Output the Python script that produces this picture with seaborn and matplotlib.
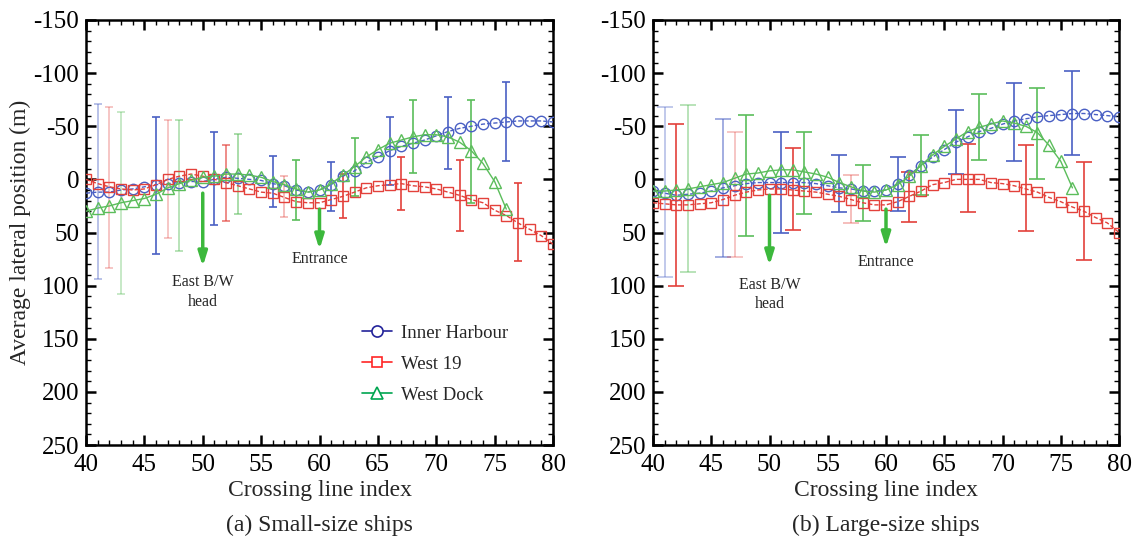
import numpy as np
import pandas as pd
import matplotlib
matplotlib.use("Agg")
import matplotlib.pyplot as plt
import seaborn as sns
from matplotlib.lines import Line2D
from matplotlib.ticker import MultipleLocator

# ---------------- data ----------------
idx = list(range(40, 81))
idx_wd = list(range(40, 77))

series_names = ["Inner Harbour", "West 19", "West Dock"]
panel_titles = ["(a) Small-size ships", "(b) Large-size ships"]

ih_small = [13, 12, 12, 10, 9, 7, 5, 4, 3, 2, 2, 0, -2, -1, 0, 1, 4, 6, 10, 12,
            10, 5, -3, -8, -16, -21, -27, -31, -34, -37, -41, -45, -48, -50, -52,
            -53, -54, -55, -55, -55, -54]
w19_small = [0, 4, 7, 9, 10, 9, 5, 0, -3, -5, -3, 0, 3, 6, 9, 12, 13, 17, 21, 22,
             22, 19, 16, 12, 8, 6, 5, 4, 6, 7, 9, 12, 15, 19, 22, 29, 34, 41, 47, 53, 61]
wd_small = [30, 27, 25, 22, 20, 18, 14, 8, 4, 1, -2, -3, -5, -5, -4, -2, 2, 5, 9, 12,
            10, 4, -4, -12, -21, -28, -34, -37, -40, -42, -42, -40, -35, -27, -15, 2, 28]

ih_large = [11, 13, 15, 14, 13, 11, 8, 6, 4, 3, 3, 3, 3, 3, 4, 6, 8, 9, 11, 11,
            10, 4, -4, -13, -21, -28, -35, -40, -45, -48, -52, -55, -57, -59, -60,
            -61, -62, -62, -61, -60, -59]
w19_large = [22, 23, 24, 24, 23, 22, 19, 15, 12, 10, 9, 9, 10, 11, 12, 14, 16, 19, 22, 24,
             24, 21, 16, 11, 5, 3, 0, 0, 0, 3, 4, 6, 9, 12, 17, 21, 26, 30, 36, 41, 50]
wd_large = [11, 11, 10, 9, 7, 5, 3, -1, -5, -6, -8, -9, -9, -7, -5, -2, 3, 7, 11, 12,
            10, 5, -3, -13, -23, -31, -38, -45, -49, -52, -55, -53, -50, -44, -32, -17, 8]

# error bar ranges (top = most negative, bottom = most positive on the inverted axis)
eb_idx_ih = [41, 46, 51, 56, 61, 66, 71, 76]
eb_idx_w19 = [42, 47, 52, 57, 62, 67, 72, 77]
eb_idx_wd = [43, 48, 53, 58, 63, 68, 73]

ih_small_top = [-71, -59, -45, -22, -16, -59, -78, -92]
ih_small_bot = [94, 70, 43, 26, 30, 5, -10, -17]
w19_small_top = [-68, -56, -32, -3, -5, -21, -18, 3]
w19_small_bot = [83, 55, 39, 35, 36, 29, 49, 77]
wd_small_top = [-63, -56, -43, -18, -39, -75, -75]
wd_small_bot = [108, 67, 33, 38, 16, -6, 22]

ih_large_top = [-68, -57, -45, -23, -21, -65, -91, -102]
ih_large_bot = [92, 73, 50, 31, 30, -5, -17, -23]
w19_large_top = [-52, -45, -30, -4, -7, -33, -32, -16]
w19_large_bot = [100, 73, 48, 41, 40, 31, 49, 76]
wd_large_top = [-70, -61, -45, -14, -42, -80, -86]
wd_large_bot = [87, 53, 33, 39, 15, -18, 0]

# ---------------- style ----------------
sns.set_theme(style="ticks")
plt.rcParams['font.family'] = ['Liberation Serif', 'DejaVu Serif']
plt.rcParams['axes.unicode_minus'] = False

c_ih, c_w19, c_wd = '#4a60c4', '#e3413b', '#5bbd5b'
leg_colors = ['#23239a', '#ff2626', '#00a550']
arrow_c = '#3cb83c'

fig = plt.figure(figsize=(11.37, 5.38), dpi=100)
ax1 = fig.add_axes([86 / 1137, 1 - 445 / 538, 467 / 1137, 425 / 538])
ax2 = fig.add_axes([653 / 1137, 1 - 445 / 538, 466 / 1137, 425 / 538])

panels = [
    (ax1, ih_small, w19_small, wd_small,
     (ih_small_top, ih_small_bot), (w19_small_top, w19_small_bot), (wd_small_top, wd_small_bot),
     [0.45, 1, 1, 1, 1, 1, 1, 1], [0.35, 0.35, 0.7, 0.4, 1, 1, 1, 1], [0.4, 0.5, 0.6, 1, 1, 1, 1],
     3.0),
    (ax2, ih_large, w19_large, wd_large,
     (ih_large_top, ih_large_bot), (w19_large_top, w19_large_bot), (wd_large_top, wd_large_bot),
     [0.4, 0.6, 1, 1, 1, 1, 1, 1], [1, 0.35, 1, 0.4, 1, 1, 1, 1], [0.5, 1, 1, 1, 1, 1, 1],
     5.8),
]

for k, (ax, ih, w19, wd, eih, ew19, ewd, a_ih, a_w19, a_wd, cap) in enumerate(panels):
    # error bars
    for xs, (tops, bots), col, alphas in [(eb_idx_ih, eih, c_ih, a_ih),
                                          (eb_idx_w19, ew19, c_w19, a_w19),
                                          (eb_idx_wd, ewd, c_wd, a_wd)]:
        for xv, t, b, a in zip(xs, tops, bots, alphas):
            mid = (t + b) / 2.0
            ax.errorbar([xv], [mid], yerr=[[(b - t) / 2.0], [(b - t) / 2.0]], fmt='none',
                        ecolor=col, elinewidth=1.2, capsize=cap, capthick=1.2, alpha=a, zorder=2)

    df_ih = pd.DataFrame({"x": idx, "y": ih})
    df_w19 = pd.DataFrame({"x": idx, "y": w19})
    df_wd = pd.DataFrame({"x": idx_wd, "y": wd})

    sns.lineplot(data=df_ih, x="x", y="y", ax=ax, color=c_ih, marker='o', ms=7.5,
                 mfc='none', mec=c_ih, mew=1.0, lw=1.0, ls=(0, (3, 1.5)), legend=False, zorder=3)
    sns.lineplot(data=df_w19, x="x", y="y", ax=ax, color=c_w19, marker='s', ms=6.5,
                 mfc='none', mec=c_w19, mew=1.0, lw=1.0, ls=(0, (3, 1.5)), legend=False, zorder=3)
    sns.lineplot(data=df_wd, x="x", y="y", ax=ax, color=c_wd, marker='^', ms=8,
                 mfc='none', mec=c_wd, mew=1.0, lw=1.0, ls='-', legend=False, zorder=3)

    # annotations
    arr = dict(arrowstyle='-|>,head_length=0.7,head_width=0.22',
               color=arrow_c, lw=2.5, shrinkA=0, shrinkB=0)
    if k == 0:
        ax.annotate('', xy=(50, 82), xytext=(50, 13), arrowprops=arr)
        ax.annotate('', xy=(60, 66), xytext=(60, 28), arrowprops=arr)
        ax.text(50, 97, 'East B/W', ha='center', va='center', fontsize=11.5)
        ax.text(50, 115, 'head', ha='center', va='center', fontsize=11.5)
        ax.text(60, 75, 'Entrance', ha='center', va='center', fontsize=11.5)
    else:
        ax.annotate('', xy=(50, 81), xytext=(50, 15), arrowprops=arr)
        ax.annotate('', xy=(60, 64), xytext=(60, 28), arrowprops=arr)
        ax.text(50, 99, 'East B/W', ha='center', va='center', fontsize=11.5)
        ax.text(50, 117, 'head', ha='center', va='center', fontsize=11.5)
        ax.text(60, 78, 'Entrance', ha='center', va='center', fontsize=11.5)

    ax.set_xlim(40, 80)
    ax.set_ylim(250, -150)
    ax.xaxis.set_major_locator(MultipleLocator(5))
    ax.xaxis.set_minor_locator(MultipleLocator(1))
    ax.yaxis.set_major_locator(MultipleLocator(50))
    ax.yaxis.set_minor_locator(MultipleLocator(10))
    ax.tick_params(which='both', direction='in', top=True, right=True, colors='black')
    ax.tick_params(which='major', length=7, width=1.8, labelsize=18)
    ax.tick_params(axis='y', which='major', pad=5)
    ax.tick_params(axis='x', which='major', pad=6.5)
    ax.tick_params(which='minor', length=3.5, width=1.0)
    for s in ax.spines.values():
        s.set_linewidth(1.8)
        s.set_color('black')
    ax.set_xlabel('Crossing line index', fontsize=17, labelpad=3)
    if k == 0:
        ax.set_ylabel('Average lateral position (m)', fontsize=17, labelpad=2)
    else:
        ax.set_ylabel('')
    ax.text(0.5, -0.19, panel_titles[k], transform=ax.transAxes, ha='center', va='center',
            fontsize=17)

# legend (left panel only)
markers = ['o', 's', '^']
msz = [8, 7, 9]
handles = [Line2D([0], [0], color=c, lw=1.2, marker=m, ms=s, mfc='white', mec=c, mew=1.2)
           for c, m, s in zip(leg_colors, markers, msz)]
ax1.legend(handles, series_names, loc='center left', bbox_to_anchor=(0.555, 0.19),
           frameon=False, fontsize=13.5, handlelength=1.6, handletextpad=0.5,
           labelspacing=0.75)

fig.savefig('out.png', dpi=100)
